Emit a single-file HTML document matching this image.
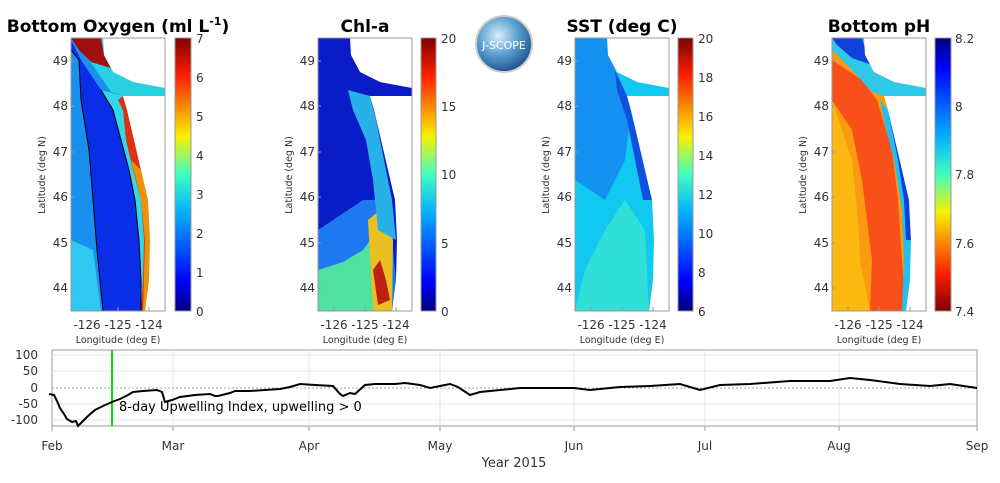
<!DOCTYPE html>
<html><head><meta charset="utf-8"><style>body{margin:0;background:#fff}svg{display:block;font-family:"DejaVu Sans","Liberation Sans",sans-serif}</style></head>
<body>
<svg width="1000" height="483" viewBox="0 0 1000 483" xmlns="http://www.w3.org/2000/svg">
<defs>
<linearGradient id="jet" x1="0" y1="1" x2="0" y2="0">
<stop offset="0" stop-color="#00007f"/><stop offset="0.11" stop-color="#0000ff"/><stop offset="0.36" stop-color="#00b0ff"/><stop offset="0.5" stop-color="#40ffc0"/><stop offset="0.64" stop-color="#f8f000"/><stop offset="0.86" stop-color="#ff2000"/><stop offset="1" stop-color="#7f0000"/></linearGradient>
<linearGradient id="jetr" x1="0" y1="0" x2="0" y2="1">
<stop offset="0" stop-color="#00007f"/><stop offset="0.11" stop-color="#0000ff"/><stop offset="0.36" stop-color="#00b0ff"/><stop offset="0.5" stop-color="#40ffc0"/><stop offset="0.64" stop-color="#f8f000"/><stop offset="0.86" stop-color="#ff2000"/><stop offset="1" stop-color="#7f0000"/></linearGradient>
<radialGradient id="logo" cx="0.4" cy="0.35" r="0.7"><stop offset="0" stop-color="#d8eef8"/><stop offset="0.5" stop-color="#5aa0d0"/><stop offset="1" stop-color="#1a4a88"/></radialGradient>
<g id="land">
<polygon points="32,38 94,38 94,88 62,82 42,72 33,55" fill="#fff"/>
<polygon points="52,96 94,96 94,311 74,311 78,280 79,240 77,200 70,170 63,140 56,110" fill="#fff"/>
</g>
<g id="frame">
<rect x="0" y="38" width="94" height="273" fill="none" stroke="#999" stroke-width="1"/>
<g stroke="#999"><line x1="16" y1="311" x2="16" y2="307"/><line x1="47" y1="311" x2="47" y2="307"/><line x1="78" y1="311" x2="78" y2="307"/>
<line x1="0" y1="61" x2="3" y2="61"/><line x1="0" y1="106" x2="3" y2="106"/><line x1="0" y1="152" x2="3" y2="152"/><line x1="0" y1="197" x2="3" y2="197"/><line x1="0" y1="243" x2="3" y2="243"/><line x1="0" y1="288" x2="3" y2="288"/></g>
</g>
</defs>

<g font-size="12" fill="#333">
<!-- Panel 1 -->
<g transform="translate(71,0)">
<rect x="0" y="38" width="94" height="273" fill="#1a90ee"/>
<polygon points="0,240 22,250 30,311 0,311" fill="#2fc8f0"/>
<polygon points="0,50 8,60 10,100 18,150 22,200 26,250 32,311 70,311 70,280 68,240 64,200 58,170 50,140 42,110 30,90 10,60 0,40" fill="#0a2ee8"/>
<polygon points="30,90 42,110 50,140 58,170 64,200 68,240 70,280 70,311 74,311 78,280 79,240 77,200 70,170 63,140 56,110 52,96" fill="#30d8e8"/>
<polygon points="47,100 52,110 55,140 62,170 70,200 73,240 72,280 70,311 74,311 78,280 79,240 77,200 70,170 63,140 56,110 52,96" fill="#e03010"/>
<polygon points="60,160 70,170 77,200 79,240 78,280 74,311 72,311 74,240 70,200 64,175" fill="#f8d000" opacity="0.6"/>
<polygon points="0,38 32,38 33,55 42,72 62,82 94,88 94,98 52,96 40,92 25,70 10,50" fill="#28d0e0"/>
<polygon points="0,38 30,38 33,55 40,68 20,62 8,50" fill="#a01010"/>
<polygon points="60,38 94,38 94,60" fill="#1060e0"/>
<polyline points="0,50 8,60 10,100 18,150 22,200 26,250 32,311" fill="none" stroke="#000" stroke-width="1"/>
<polyline points="30,90 42,110 50,140 58,170 64,200 68,240 70,280 70,311" fill="none" stroke="#000" stroke-width="1"/>
<use href="#land"/><use href="#frame"/>
</g>
<!-- Panel 2 -->
<g transform="translate(318,0)">
<rect x="0" y="38" width="94" height="273" fill="#0a1cc8"/>
<polygon points="0,230 30,210 45,200 70,200 78,280 74,311 0,311" fill="#1e78f0"/>
<polygon points="0,270 25,262 45,250 60,230 75,240 74,311 0,311" fill="#50e0a0"/>
<polygon points="50,220 62,210 75,220 74,311 55,311" fill="#e8c020"/>
<polygon points="55,270 62,260 68,280 72,300 60,305" fill="#c02010"/>
<polygon points="30,90 52,96 58,120 66,160 74,200 78,240 60,230 55,180 48,140 35,110" fill="#28b0e8"/>
<use href="#land"/><use href="#frame"/>
</g>
<!-- Panel 3 -->
<g transform="translate(575,0)">
<rect x="0" y="38" width="94" height="273" fill="#10c8f0"/>
<polygon points="0,38 32,38 40,70 52,96 56,110 50,160 30,200 0,180" fill="#1490f0"/>
<polygon points="40,70 52,96 63,140 70,170 77,200 68,200 60,160 52,120 42,90" fill="#1050e0"/>
<polygon points="10,270 30,230 50,200 70,230 74,311 0,311" fill="#30e0d8"/>
<use href="#land"/><use href="#frame"/>
</g>
<!-- Panel 4 -->
<g transform="translate(832,0)">
<rect x="0" y="38" width="94" height="273" fill="#fb9a10"/>
<polygon points="0,100 20,160 26,220 28,260 38,311 0,311" fill="#fbb810"/>
<polygon points="0,60 30,80 45,100 60,150 66,200 70,260 74,311 38,311 40,260 35,220 30,180 20,130 0,100" fill="#f85018"/>
<polygon points="48,100 56,110 63,140 70,170 77,200 79,240 78,280 74,311 70,311 72,260 70,210 62,160 52,120" fill="#20c0f0"/>
<polygon points="56,110 63,140 70,170 77,200 79,240 74,240 72,200 66,160 58,120" fill="#1040e0"/>
<polygon points="0,38 32,38 33,55 42,72 62,82 94,88 94,98 52,96 40,92 20,70 0,50" fill="#30c8e8"/>
<polygon points="0,38 30,38 35,55 40,65 20,58 5,45" fill="#1040e0"/>
<polygon points="60,38 94,38 94,60" fill="#f87020"/>
<use href="#land"/><use href="#frame"/>
</g>

<!-- colorbars -->
<rect x="175" y="38" width="16" height="273" fill="url(#jet)" stroke="#999"/>
<rect x="421" y="38" width="15" height="273" fill="url(#jet)" stroke="#999"/>
<rect x="678" y="38" width="15" height="273" fill="url(#jet)" stroke="#999"/>
<rect x="935" y="38" width="16" height="273" fill="url(#jetr)" stroke="#999"/>

<g font-size="12">
<text x="196" y="43">7</text><text x="196" y="82">6</text><text x="196" y="121">5</text><text x="196" y="160">4</text><text x="196" y="199">3</text><text x="196" y="238">2</text><text x="196" y="277">1</text><text x="196" y="316">0</text>
<text x="441" y="43">20</text><text x="441" y="111">15</text><text x="441" y="179">10</text><text x="441" y="248">5</text><text x="441" y="316">0</text>
<text x="698" y="43">20</text><text x="698" y="82">18</text><text x="698" y="121">16</text><text x="698" y="160">14</text><text x="698" y="199">12</text><text x="698" y="238">10</text><text x="698" y="277">8</text><text x="698" y="316">6</text>
<text x="955" y="43">8.2</text><text x="955" y="111">8</text><text x="955" y="179">7.8</text><text x="955" y="248">7.6</text><text x="955" y="316">7.4</text>
</g>

<g font-size="12" text-anchor="end">
<text x="68" y="65">49</text><text x="68" y="110">48</text><text x="68" y="156">47</text><text x="68" y="201">46</text><text x="68" y="247">45</text><text x="68" y="292">44</text>
<text x="315" y="65">49</text><text x="315" y="110">48</text><text x="315" y="156">47</text><text x="315" y="201">46</text><text x="315" y="247">45</text><text x="315" y="292">44</text>
<text x="572" y="65">49</text><text x="572" y="110">48</text><text x="572" y="156">47</text><text x="572" y="201">46</text><text x="572" y="247">45</text><text x="572" y="292">44</text>
<text x="829" y="65">49</text><text x="829" y="110">48</text><text x="829" y="156">47</text><text x="829" y="201">46</text><text x="829" y="247">45</text><text x="829" y="292">44</text>
</g>
<g font-size="12" text-anchor="middle">
<text x="87" y="329">-126</text><text x="118" y="329">-125</text><text x="149" y="329">-124</text>
<text x="334" y="329">-126</text><text x="365" y="329">-125</text><text x="396" y="329">-124</text>
<text x="591" y="329">-126</text><text x="622" y="329">-125</text><text x="653" y="329">-124</text>
<text x="848" y="329">-126</text><text x="879" y="329">-125</text><text x="910" y="329">-124</text>
</g>
<g font-size="9.5" text-anchor="middle">
<text x="118" y="343">Longitude (deg E)</text><text x="365" y="343">Longitude (deg E)</text><text x="622" y="343">Longitude (deg E)</text><text x="879" y="343">Longitude (deg E)</text>
<text transform="translate(45,175) rotate(-90)">Latitude (deg N)</text>
<text transform="translate(292,175) rotate(-90)">Latitude (deg N)</text>
<text transform="translate(549,175) rotate(-90)">Latitude (deg N)</text>
<text transform="translate(806,175) rotate(-90)">Latitude (deg N)</text>
</g>
</g>

<g font-weight="bold" font-size="17" fill="#000" text-anchor="middle">
<text x="118" y="32">Bottom Oxygen (ml L<tspan font-size="11" dy="-7">-1</tspan><tspan dy="7">)</tspan></text>
<text x="365" y="32">Chl-a</text>
<text x="622" y="32">SST (deg C)</text>
<text x="879" y="32">Bottom pH</text>
</g>
<circle cx="504" cy="44" r="28" fill="url(#logo)" stroke="#ccc" stroke-width="2"/>
<text x="504" y="49" font-size="11" fill="#fff" text-anchor="middle">J-SCOPE</text>

<g>
<rect x="52" y="350" width="925" height="76" fill="#fff" stroke="#999"/>
<g stroke="#e4e4e4"><line x1="52" y1="355" x2="977" y2="355"/><line x1="52" y1="371" x2="977" y2="371"/><line x1="52" y1="404" x2="977" y2="404"/><line x1="52" y1="420" x2="977" y2="420"/>
<line x1="173" y1="350" x2="173" y2="426"/><line x1="309" y1="350" x2="309" y2="426"/><line x1="440" y1="350" x2="440" y2="426"/><line x1="574" y1="350" x2="574" y2="426"/><line x1="705" y1="350" x2="705" y2="426"/><line x1="839" y1="350" x2="839" y2="426"/></g>
<line x1="52" y1="388" x2="977" y2="388" stroke="#aaa" stroke-dasharray="2,2"/>
<g stroke="#999"><line x1="173" y1="426" x2="173" y2="431"/><line x1="309" y1="426" x2="309" y2="431"/><line x1="440" y1="426" x2="440" y2="431"/><line x1="574" y1="426" x2="574" y2="431"/><line x1="705" y1="426" x2="705" y2="431"/><line x1="839" y1="426" x2="839" y2="431"/><line x1="52" y1="426" x2="52" y2="431"/><line x1="977" y1="426" x2="977" y2="431"/></g>
<line x1="112" y1="350" x2="112" y2="426" stroke="#00e000" stroke-width="2"/>
<polyline fill="none" stroke="#000" stroke-width="2" points="49,394 54,395 57,401 60,408 64,414 67,419 72,422 76,421 78,426 82,422 88,416 95,410 103,406 112,402 120,399 128,395 133,392 143,391 157,390 162,392 165,402 172,400 180,397 195,395 210,394 215,396 218,396 230,393 235,391 250,391 265,390 280,389 290,387 300,384 315,385 333,386 340,394 343,396 350,393 355,394 365,385 375,384 395,384 405,383 420,385 430,388 440,386 450,384 458,387 470,395 480,392 500,390 520,388 545,388 574,388 590,390 620,387 650,386 680,384 700,390 720,385 750,384 790,381 830,381 850,378 870,380 900,384 930,386 950,384 977,388"/>
<text x="119" y="411" font-size="13" fill="#000">8-day Upwelling Index, upwelling &gt; 0</text>
<g font-size="12" fill="#333" text-anchor="end">
<text x="38" y="359">100</text><text x="38" y="375">50</text><text x="38" y="392">0</text><text x="38" y="408">-50</text><text x="38" y="424">-100</text>
</g>
<g font-size="12" fill="#333" text-anchor="middle">
<text x="52" y="450">Feb</text><text x="173" y="450">Mar</text><text x="309" y="450">Apr</text><text x="440" y="450">May</text><text x="574" y="450">Jun</text><text x="705" y="450">Jul</text><text x="839" y="450">Aug</text><text x="977" y="450">Sep</text>
<text x="514" y="467" font-size="13">Year 2015</text>
</g>
</g>
</svg>
</body></html>
